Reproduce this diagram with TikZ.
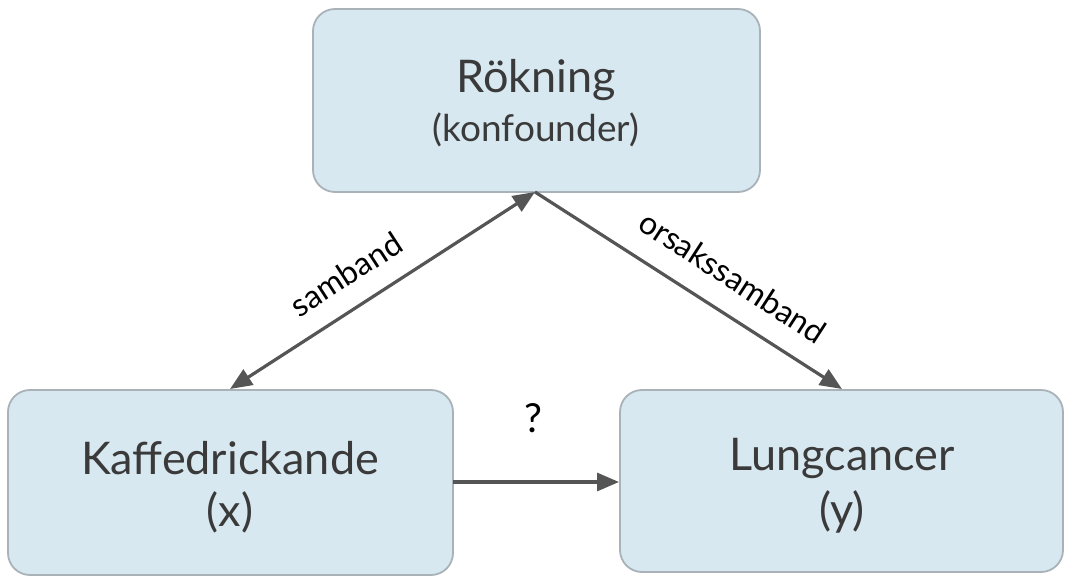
\documentclass[tikz,border=0pt]{standalone}
\usepackage{fontspec}
\setmainfont{Lato}
\usetikzlibrary{arrows.meta}
\definecolor{boxfill}{HTML}{D7E8F0}
\definecolor{boxline}{HTML}{A8B2B8}
\definecolor{arr}{HTML}{555555}
\definecolor{txt}{HTML}{3A3A3A}
\begin{document}
\begin{tikzpicture}[x=1pt,y=-1pt,
  box/.style={draw=boxline,line width=1.8pt,fill=boxfill,rounded corners=22pt},
  conn/.style={draw=arr,line width=3.2pt,-{Triangle[length=22pt,width=18pt]}},
  lab/.style={text=black,font=\fontsize{32}{36}\selectfont}]
\useasboundingbox (0,0) rectangle (1066,580);
\draw[box] (313,9) rectangle (760,192);
\draw[box] (8,390) rectangle (453,575);
\draw[box] (620,390) rectangle (1063,572);
\node[text=txt,font=\fontsize{45}{50}\selectfont] (r) at (536,80) {Rökning};
\node[text=txt,font=\fontsize{37}{42}\selectfont] (rk) at (536,130) {(konfounder)};
\node[text=txt,font=\fontsize{45}{52}\selectfont] (k) at (230,458) {Kaffedrickande};
\node[text=txt,font=\fontsize{45}{52}\selectfont] (kx) at (230,512) {(x)};
\node[text=txt,font=\fontsize{45}{52}\selectfont] (l) at (842,458) {Lungcancer};
\node[text=txt,font=\fontsize{45}{52}\selectfont] (ly) at (842,512) {(y)};
\coordinate (top) at (535,192);
\coordinate (lt) at (230,389);
\coordinate (rt) at (842,389);
\coordinate (hs) at (453,482);
\coordinate (he) at (619,482);
\draw[conn,{Triangle[length=22pt,width=18pt]}-{Triangle[length=22pt,width=18pt]}] (lt) -- (top);
\draw[conn] (top) -- (rt);
\draw[conn] (hs) -- (he);
\node[lab,font=\fontsize{40}{44}\selectfont] (q) at (533,418) {?};
\node[lab,rotate=33] (s) at (346,274) {samband};
\node[lab,rotate=-33] (o) at (733,277) {orsakssamband};
\end{tikzpicture}
\end{document}
